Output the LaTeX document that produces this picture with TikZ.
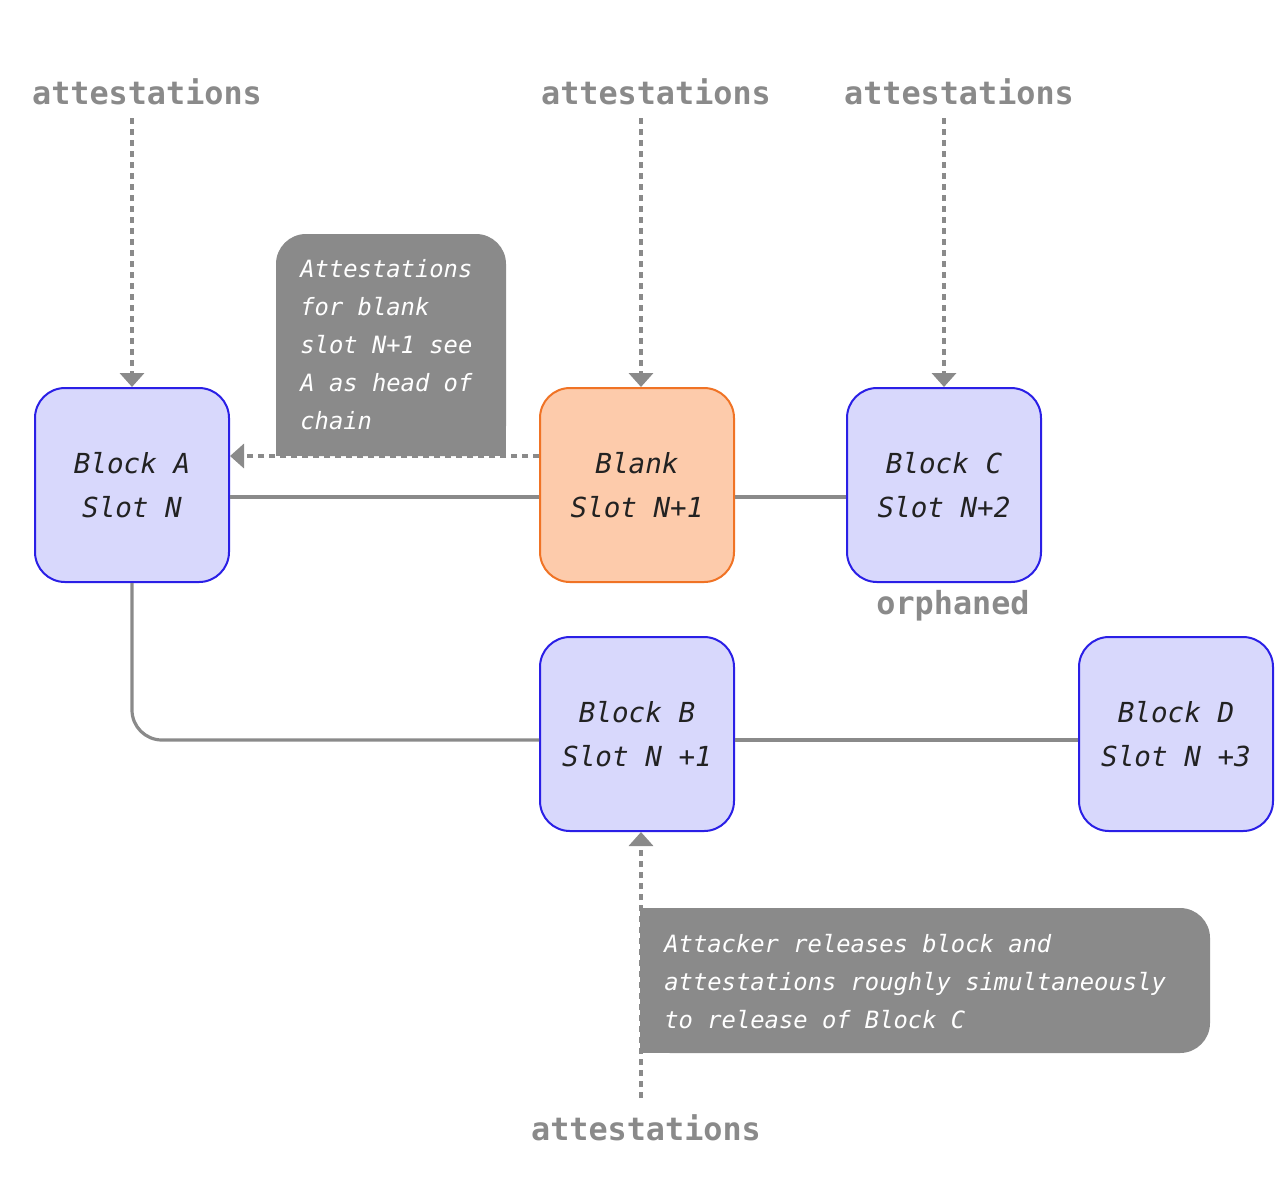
\documentclass[tikz,border=0pt]{standalone}
\usepackage{fontspec}
\setmonofont{DejaVu Sans Mono}
\usepackage{tikz}
\usetikzlibrary{shapes,arrows.meta,positioning}
\definecolor{linegray}{HTML}{8A8A8A}
\definecolor{blockfill}{HTML}{D8D8FC}
\definecolor{blockdraw}{HTML}{2A1FE6}
\definecolor{blankfill}{HTML}{FDCBAB}
\definecolor{blankdraw}{HTML}{F07325}
\definecolor{textdark}{HTML}{222222}
\tikzstyle{block} = [draw=blockdraw, fill=blockfill, line width=1pt, rounded corners=15pt, minimum width=97pt, minimum height=97pt, align=center, text=textdark, font=\ttfamily\itshape\fontsize{13.8}{22}\selectfont]
\tikzstyle{blank} = [block, draw=blankdraw, fill=blankfill]
\tikzstyle{link} = [draw=linegray, line width=1.6pt]
\tikzstyle{att} = [draw=linegray, line width=2pt, dash pattern=on 3pt off 2.5pt, -{Triangle[width=12pt,length=7pt]}]
\tikzstyle{attlabel} = [text=linegray, font=\ttfamily\bfseries\fontsize{15.9}{19}\selectfont, anchor=base]
\tikzstyle{notetext} = [text=white, align=left, inner sep=0pt, anchor=north west, font=\ttfamily\itshape\fontsize{11.9}{19}\selectfont]

\begin{document}
\begin{tikzpicture}[x=0.5pt, y=-0.5pt, node distance=252.5pt]
    \useasboundingbox (0,0) rectangle (1280,1180);
    % Place nodes
     \node [block] (A) at (132,485) {Block A\\Slot N};
     \node [blank, right of=A] (Blank) {Blank\\Slot N+1};
     \node [block, right of=Blank, node distance=153.5pt] (C) {Block C\\Slot N+2};
     \node [block, below of=Blank, node distance=124.5pt] (B) {Block B\\Slot N +1};
     \node [block, right of=B, node distance=269.5pt] (D) {Block D\\Slot N +3};

     \node [attlabel] (attA) at (147,104) {attestations};
     \node [attlabel] (attBlank) at (656,104) {attestations};
     \node [attlabel] (attC) at (959,104) {attestations};
     \node [attlabel] (attB) at (646,1140) {attestations};
     \node [attlabel] (orph) at (953,614) {orphaned};

     \coordinate (topA) at (132,118);
     \coordinate (topBlank) at (641,118);
     \coordinate (topC) at (944,118);
     \coordinate (botB) at (641,1098);

     % notes
     \fill [linegray, rounded corners=15pt] (276,234) rectangle (506,456);
     \fill [linegray] (276,320) rectangle (506,456);
     \node [notetext] (noteA) at (300,259) {Attestations\\for blank\\slot N+1 see\\A as head of\\chain};

     \path [att] (botB) -- (botB |- B.south);
     \fill [linegray, rounded corners=15pt] (640,908) rectangle (1210,1053);
     \fill [linegray] (640,908) rectangle (720,1053);
     \node [notetext] (noteB) at (664,934) {Attacker releases block and\\attestations roughly simultaneously\\to release of Block C};

     % chain
     \path [link] ([yshift=-6pt]A.east) -- ([yshift=-6pt]Blank.west);
     \path [link] ([yshift=-6pt]Blank.east) -- ([yshift=-6pt]C.west);
     \path [link, rounded corners=15pt] (A.south) |- ([yshift=-3pt]B.west);
     \path [link] ([yshift=-3pt]B.east) -- ([yshift=-3pt]D.west);

     % attestations
     \foreach \n in {A, Blank, C}
        \path [att] (top\n) -- (top\n |- \n.north);
     \path [att] ([yshift=14.5pt]Blank.west) -- ([yshift=14.5pt]A.east);

\end{tikzpicture}
\end{document}
